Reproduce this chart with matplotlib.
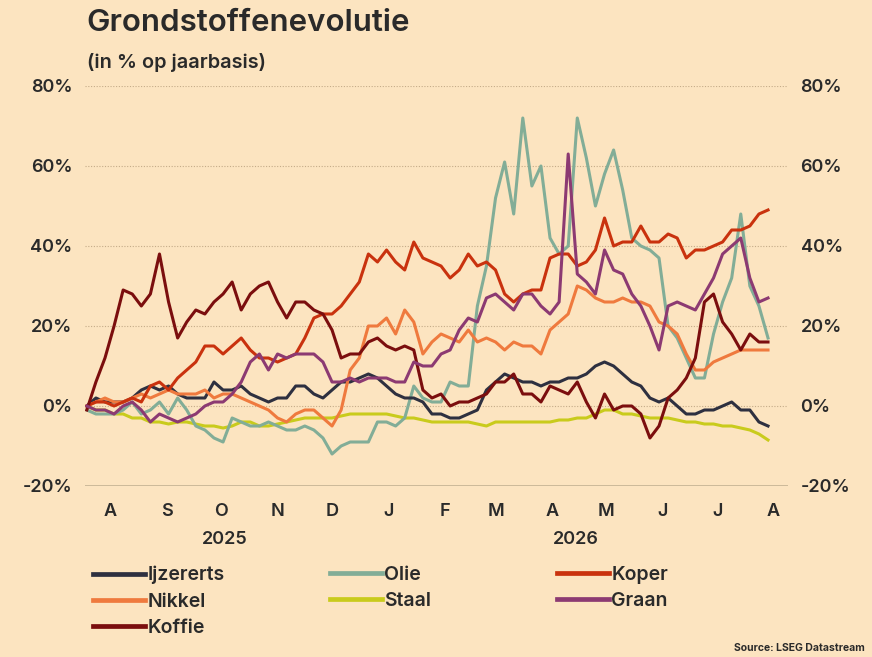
import numpy as np
import pandas as pd
import matplotlib
matplotlib.use("Agg")
import matplotlib.pyplot as plt
import matplotlib.dates as mdates
from matplotlib.lines import Line2D
from matplotlib.ticker import FuncFormatter

plt.rcParams['font.family'] = ['Inter', 'DejaVu Sans']
plt.rcParams['font.weight'] = 'semibold'

# series (year-on-year change in %)
dates = pd.date_range("2025-07-19", periods=76, freq="5D")

ijzererts = [0, 2, 1, 1, 1, 2, 4, 5, 4, 5, 3, 2, 2, 2, 6, 4, 4, 5, 3, 2,
             1, 2, 2, 5, 5, 3, 2, 4, 6, 6, 7, 8, 7, 5, 3, 2, 2, 1, -2, -2,
             -3, -3, -2, -1, 4, 6, 8, 7, 6, 6, 5, 6, 6, 7, 7, 8, 10, 11, 10, 8,
             6, 5, 2, 1, 2, 0, -2, -2, -1, -1, 0, 1, -1, -1, -4, -5]
nikkel = [0, 1, 2, 1, 1, 2, 3, 2, 3, 4, 3, 3, 3, 4, 2, 3, 3, 2, 1, 0,
          -1, -3, -4, -2, -1, -1, -3, -5, -1, 9, 12, 20, 20, 22, 18, 24, 21, 13, 16, 18,
          17, 16, 19, 16, 17, 16, 14, 16, 15, 15, 13, 19, 21, 23, 30, 29, 27, 26, 26, 27,
          26, 26, 25, 21, 20, 18, 13, 9, 9, 11, 12, 13, 14, 14, 14, 14]
koffie = [-1, 6, 12, 20, 29, 28, 25, 28, 38, 26, 17, 21, 24, 23, 26, 28, 31, 24, 28, 30,
          31, 26, 22, 26, 26, 24, 23, 19, 12, 13, 13, 16, 17, 15, 14, 15, 14, 4, 2, 3,
          0, 1, 1, 2, 3, 6, 6, 8, 3, 3, 1, 5, 4, 3, 6, 1, -3, 3, -1, 0,
          0, -2, -8, -5, 2, 4, 7, 12, 26, 28, 21, 18, 14, 18, 16, 16]
olie = [-1, -2, -2, -2, -1, 1, -2, -1, 1, -2, 2, -1, -5, -6, -8, -9, -3, -4, -5, -5,
        -4, -5, -6, -6, -5, -6, -8, -12, -10, -9, -9, -9, -4, -4, -5, -3, 5, 2, 1, 1,
        6, 5, 5, 25, 35, 52, 61, 48, 72, 55, 60, 42, 38, 40, 72, 62, 50, 58, 64, 54,
        42, 40, 39, 37, 20, 17, 12, 7, 7, 18, 26, 32, 48, 30, 25, 17]
staal = [0, -1, -1, -2, -2, -3, -3, -4, -4, -4.5, -4, -4, -4.5, -5, -5, -5.5, -5, -4, -4, -5,
         -5, -4.5, -4, -3.5, -3, -3, -3, -3, -2.5, -2, -2, -2, -2, -2, -2.5, -3, -3, -3.5, -4, -4,
         -4, -4, -4, -4.5, -5, -4, -4, -4, -4, -4, -4, -4, -3.5, -3.5, -3, -3, -2, -1, -1, -2,
         -2, -2.5, -3, -3, -3, -3.5, -4, -4, -4.5, -4.5, -5, -5, -5.5, -6, -7, -8.5]
koper = [0, 1, 1, 0, 1, 2, 1, 5, 6, 4, 7, 9, 11, 15, 15, 13, 15, 17, 14, 12,
         12, 11, 12, 13, 17, 22, 23, 23, 25, 28, 31, 38, 36, 39, 36, 34, 41, 37, 36, 35,
         32, 34, 38, 35, 36, 34, 28, 26, 28, 29, 29, 37, 38, 38, 35, 36, 39, 47, 40, 41,
         41, 45, 41, 41, 43, 42, 37, 39, 39, 40, 41, 44, 44, 45, 48, 49]
graan = [0, -1, -1, -2, 0, 1, -1, -4, -2, -3, -4, -3, -2, 0, 1, 1, 3, 6, 11, 13,
         9, 13, 12, 13, 13, 13, 11, 6, 6, 7, 6, 7, 7, 7, 6, 6, 11, 10, 10, 13,
         14, 19, 22, 21, 27, 28, 26, 24, 28, 28, 25, 23, 26, 63, 33, 31, 28, 39, 34, 33,
         28, 25, 20, 14, 25, 26, 25, 24, 28, 32, 38, 40, 42, 32, 26, 27]

colors = {"Ijzererts": "#2e3040", "Nikkel": "#ef7a3e", "Koffie": "#7b0e0e",
          "Olie": "#82ad97", "Staal": "#c9cb1c", "Koper": "#c9320e", "Graan": "#8c3a72"}
series = {"Ijzererts": ijzererts, "Nikkel": nikkel, "Koffie": koffie, "Olie": olie,
          "Staal": staal, "Koper": koper, "Graan": graan}
draw_order = ["Staal", "Olie", "Ijzererts", "Nikkel", "Koper", "Koffie", "Graan"]

bg = "#fce4c0"
ink = "#2a2a2a"

fig = plt.figure(figsize=(8.72, 6.57), dpi=100, facecolor=bg)
ax = fig.add_axes([85 / 872, 1 - 486 / 657, 703 / 872, 400 / 657])
ax.set_facecolor(bg)

for name in draw_order:
    ax.plot(dates, series[name], color=colors[name], lw=2.2, solid_joinstyle="round")

ax.set_ylim(-20, 80)
ax.set_yticks(range(-20, 81, 20))
ax.yaxis.set_major_formatter(FuncFormatter(lambda v, p: f"{int(v)}%"))
ax.set_xlim(pd.Timestamp("2025-07-18"), pd.Timestamp("2026-08-09"))
ax.xaxis.set_major_locator(mdates.MonthLocator())
ax.xaxis.set_major_formatter(FuncFormatter(lambda v, p: "JFMAMJJASOND"[mdates.num2date(v).month - 1]))

for v in range(0, 81, 20):
    ax.axhline(v, color="#c4ab88", lw=0.8, ls=(0, (1, 1.5)), zorder=0)
ax.axhline(-20, color="#c9b696", lw=1.3, zorder=0)

for s in ax.spines.values():
    s.set_visible(False)
ax.tick_params(axis="y", length=0, labelsize=13, labelcolor=ink, labelleft=True, labelright=True, pad=9)
ax.tick_params(axis="x", length=0, labelsize=13, labelcolor=ink, pad=12)

ax.text(pd.Timestamp("2025-10-03"), -33.5, "2025", ha="center", va="center", fontsize=13, color=ink)
ax.text(pd.Timestamp("2026-04-14"), -33.5, "2026", ha="center", va="center", fontsize=13, color=ink)

fig.text(86 / 872, 1 - 23 / 657, "Grondstoffenevolutie", fontsize=22.5, color=ink,
         va="center", ha="left")
fig.text(87 / 872, 1 - 62 / 657, "(in % op jaarbasis)", fontsize=14.3, color=ink,
         va="center", ha="left")

cols = [["Ijzererts", "Nikkel", "Koffie"], ["Olie", "Staal"], ["Koper", "Graan"]]
col_x = [93, 330, 557]
for names_col, cx in zip(cols, col_x):
    handles = [Line2D([], [], color=colors[n], lw=3.4) for n in names_col]
    fig.legend(handles, names_col, loc="upper left", bbox_to_anchor=(cx / 872, 1 - 566 / 657),
               frameon=False, fontsize=14, handlelength=2.65, handletextpad=0.15,
               labelspacing=0.42, borderpad=0, borderaxespad=0, labelcolor=ink)

fig.text(865 / 872, 1 - 648 / 657, "Source: LSEG Datastream", fontsize=7.5, fontweight="bold",
         color=ink, ha="right", va="center")

fig.savefig("out.png", dpi=100, facecolor=bg)
